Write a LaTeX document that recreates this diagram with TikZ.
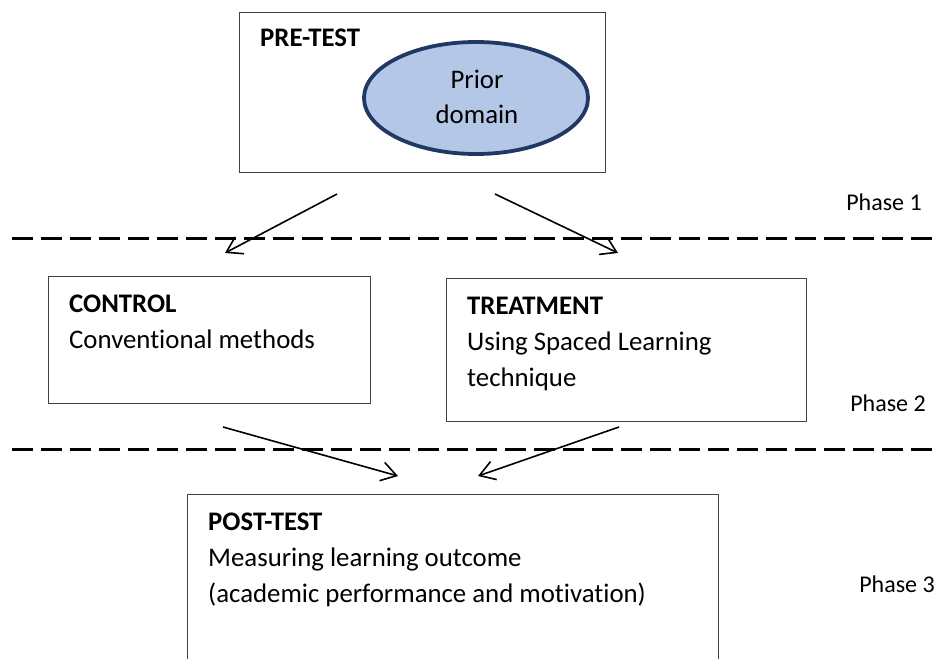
\documentclass[tikz,border=0pt]{standalone}
\usepackage{fontspec}
\setmainfont{Carlito}[Ligatures={NoCommon,TeX}]
\usetikzlibrary{arrows.meta,shapes.geometric}
\definecolor{ellfill}{HTML}{B4C7E7}
\definecolor{ellline}{HTML}{203864}
\definecolor{boxline}{HTML}{404040}
\begin{document}
\begin{tikzpicture}[x=1pt,y=-1pt,
  box/.style={draw=boxline,line width=1.3pt,inner sep=0pt,anchor=north west},
  txt/.style={inner sep=0pt,anchor=base west,font=\fontsize{26.8}{32}\selectfont},
  txtc/.style={inner sep=0pt,anchor=base,font=\fontsize{26.8}{32}\selectfont},
  phase/.style={inner sep=0pt,anchor=base,font=\fontsize{24}{28}\selectfont},
  arr/.style={line width=1.6pt,-{Straight Barb[length=15pt,width=19pt,line width=1.6pt]}},
  sepline/.style={line width=3pt,dash pattern=on 21pt off 8pt}]
\clip (0,0) rectangle (936,658);
\fill[white] (0,0) rectangle (936,658);
% boxes
\node[box,minimum width=366pt,minimum height=160pt] (pre) at (239,12) {};
\node[ellipse,draw=ellline,fill=ellfill,line width=3.8pt,minimum width=224pt,minimum height=112pt] (ell) at (476,98) {};
\node[box,minimum width=322pt,minimum height=127pt] (ctrl) at (48,276) {};
\node[box,minimum width=360pt,minimum height=143pt] (treat) at (446,278) {};
\node[box,minimum width=531pt,minimum height=190pt] (post) at (187,494) {};
% texts
\node[txt] (tpre) at (260,47) {\bfseries PRE-TEST};
\node[txtc] (tprior) at (477,89) {Prior};
\node[txtc] (tdomain) at (477,124) {domain};
\node[txt] (tctrl) at (69,312) {\bfseries CONTROL};
\node[txt] (tconv) at (69,348) {Conventional methods};
\node[txt] (ttreat) at (467,314) {\bfseries TREATMENT};
\node[txt] (tusing) at (467,350) {Using Spaced Learning};
\node[txt] (ttech) at (467,386) {technique};
\node[txt] (tpost) at (208,530) {\bfseries POST-TEST};
\node[txt] (tmeas) at (208,566) {Measuring learning outcome};
\node[txt] (tacad) at (208,602) {(academic performance and motivation)};
\node[phase] (p1) at (884,210) {Phase 1};
\node[phase] (p2) at (888,411) {Phase 2};
\node[phase] (p3) at (897,592) {Phase 3};
% separators
\coordinate (s1a) at (12,238); \coordinate (s1b) at (936,238);
\coordinate (s2a) at (12,449); \coordinate (s2b) at (936,449);
\draw[sepline] (s1a) -- (s1b);
\draw[sepline] (s2a) -- (s2b);
% arrows
\coordinate (a1s) at (337,194); \coordinate (a1e) at (225,253);
\coordinate (a2s) at (495,194); \coordinate (a2e) at (618,253);
\coordinate (a3s) at (223,427); \coordinate (a3e) at (398,476);
\coordinate (a4s) at (619,427); \coordinate (a4e) at (478,476);
\draw[arr] (a1s) -- (a1e);
\draw[arr] (a2s) -- (a2e);
\draw[arr] (a3s) -- (a3e);
\draw[arr] (a4s) -- (a4e);
\end{tikzpicture}
\end{document}
